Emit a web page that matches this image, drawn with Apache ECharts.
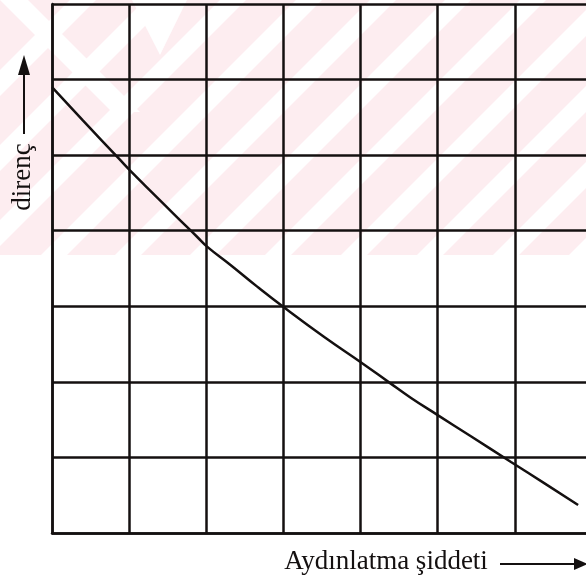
<!DOCTYPE html>
<html>
<head>
<meta charset="utf-8">
<style>
  html, body { margin: 0; padding: 0; background: #ffffff; }
  #chart { width: 586px; height: 583px; }
</style>
<script src="https://cdn.jsdelivr.net/npm/echarts@6/dist/echarts.min.js"></script>
</head>
<body>
<div id="chart"></div>
<script>
// Illumination (x) vs. resistance (y), both in grid divisions
const illumination = [0.00, 0.40, 0.88, 1.01, 1.57, 1.88, 2.01, 2.31, 2.66, 3.04, 3.52, 4.03, 4.36, 4.65, 5.00, 5.43, 5.95, 6.38, 6.82];
const resistance   = [5.90, 5.46, 4.94, 4.80, 4.23, 3.92, 3.79, 3.55, 3.26, 2.96, 2.60, 2.24, 2.00, 1.79, 1.56, 1.28, 0.94, 0.66, 0.37];

// Axis ranges (grid divisions)
const xRange = [0, 7];
const yRange = [0, 7];

// Labels
const xTitle = 'Aydınlatma şiddeti';
const yTitle = 'direnç';

const ink = '#141010';
const pink = '#fdedf0';
const serif = '"Liberation Serif", "DejaVu Serif", serif';

// Background tint band with diagonal light stripes
const tintHeight = 255;
const stripeOffsets = [70, 145, 220, 296, 370, 445, 520, 596, 672, 748, 824];
const stripeWidth = 26;

const graphics = [];
graphics.push({
  type: 'rect', z: -10, silent: true,
  shape: { x: 0, y: 0, width: 586, height: tintHeight },
  style: { fill: pink }
});
stripeOffsets.forEach(c => {
  graphics.push({
    type: 'polygon', z: -9, silent: true,
    shape: { points: [[c, 0], [c + stripeWidth, 0], [c + stripeWidth - tintHeight, tintHeight], [c - tintHeight, tintHeight]] },
    style: { fill: '#ffffff' }
  });
});
// light "\" bands on the left
graphics.push({
  type: 'polygon', z: -9, silent: true,
  shape: { points: [[0, 0], [28, 0], [140, 112], [112, 112]] },
  style: { fill: '#ffffff' }
});
graphics.push({
  type: 'polygon', z: -9, silent: true,
  shape: { points: [[132, 0], [187, 0], [160, 55]] },
  style: { fill: '#ffffff' }
});

// axis titles and arrows
graphics.push({
  type: 'text', z: 10, silent: true,
  x: 386, y: 562,
  style: { text: xTitle, font: '27px ' + serif, fill: ink, align: 'center', verticalAlign: 'middle' }
});
graphics.push({
  type: 'line', z: 10, silent: true,
  shape: { x1: 500, y1: 564, x2: 576, y2: 564 },
  style: { stroke: ink, lineWidth: 2 }
});
graphics.push({
  type: 'polygon', z: 10, silent: true,
  shape: { points: [[574, 558], [588, 564], [574, 570]] },
  style: { fill: ink }
});
graphics.push({
  type: 'text', z: 10, silent: true,
  x: 23, y: 177, rotation: Math.PI / 2,
  style: { text: yTitle, font: '27px ' + serif, fill: ink, align: 'center', verticalAlign: 'middle' }
});
graphics.push({
  type: 'line', z: 10, silent: true,
  shape: { x1: 24, y1: 134, x2: 24, y2: 70 },
  style: { stroke: ink, lineWidth: 2 }
});
graphics.push({
  type: 'polygon', z: 10, silent: true,
  shape: { points: [[18, 75], [24, 55], [30, 75]] },
  style: { fill: ink }
});

const chart = echarts.init(document.getElementById('chart'), null, { renderer: 'canvas' });

const axisCommon = {
  type: 'value',
  interval: 1,
  axisLine: { show: true, lineStyle: { color: ink, width: 2.5 } },
  axisTick: { show: false },
  axisLabel: { show: false },
  splitLine: { show: true, lineStyle: { color: ink, width: 2.5 } }
};

chart.setOption({
  animation: false,
  backgroundColor: '#ffffff',
  // the last column runs past the right edge of the page
  grid: { left: 52, top: 4, width: 540, height: 529, outerBoundsMode: 'none', containLabel: false },
  xAxis: Object.assign({}, axisCommon, { min: xRange[0], max: xRange[1] }),
  yAxis: Object.assign({}, axisCommon, { min: yRange[0], max: yRange[1] }),
  graphic: graphics,
  series: [{
    type: 'line',
    data: illumination.map((x, i) => [x, resistance[i]]),
    smooth: 0.5,
    showSymbol: false,
    lineStyle: { color: ink, width: 2.5 },
    z: 5
  }]
});
</script>
</body>
</html>
